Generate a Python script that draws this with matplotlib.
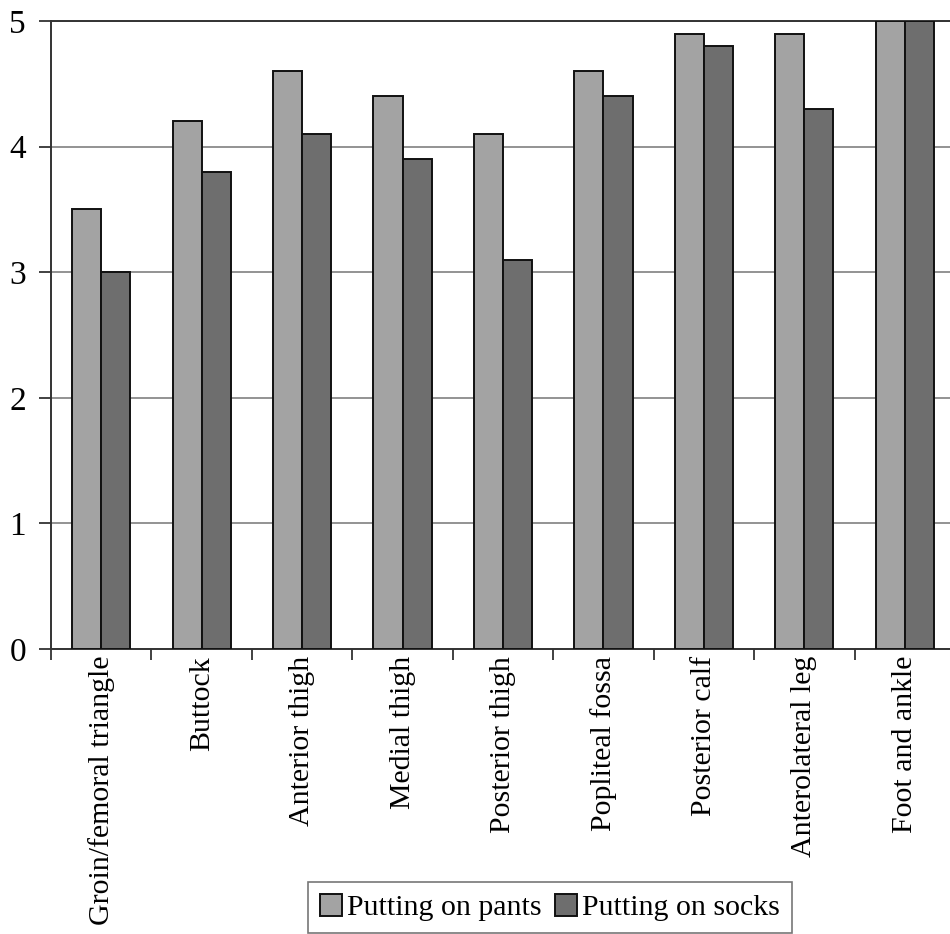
import numpy as np
import matplotlib
matplotlib.use("Agg")
import matplotlib.pyplot as plt

categories = ["Groin/femoral triangle", "Buttock", "Anterior thigh", "Medial thigh",
              "Posterior thigh", "Popliteal fossa", "Posterior calf",
              "Anterolateral leg", "Foot and ankle"]
pants = [3.5, 4.2, 4.6, 4.4, 4.1, 4.6, 4.9, 4.9, 5.0]
socks = [3.0, 3.8, 4.1, 3.9, 3.1, 4.4, 4.8, 4.3, 5.0]
series_labels = ["Putting on pants", "Putting on socks"]

plt.rcParams["font.family"] = ["Liberation Serif", "DejaVu Serif"]

W, H = 950, 934
fig = plt.figure(figsize=(W / 100, H / 100), dpi=100)
ax = fig.add_axes([51 / W, 1 - 649 / H, 904 / W, 628 / H])

x = np.arange(len(categories))
bw = 0.29
b1 = ax.bar(x - bw / 2, pants, bw, color="#a3a3a3", edgecolor="#111111", linewidth=1.4,
            label=series_labels[0], zorder=3)
b2 = ax.bar(x + bw / 2, socks, bw, color="#6e6e6e", edgecolor="#111111", linewidth=1.4,
            label=series_labels[1], zorder=3)

ax.set_xlim(-0.5, len(categories) - 0.5)
ax.set_ylim(0, 5)
ax.set_yticks(range(6))
ax.yaxis.grid(True, color="#8a8a8a", linewidth=1.3, zorder=0)
ax.set_axisbelow(True)

ax.set_xticks(x)
ax.set_xticklabels(categories, rotation=90, va="top", ha="center")
ax.set_xticks(np.arange(len(categories) + 1) - 0.5, minor=True)
ax.tick_params(axis="x", which="major", length=0, pad=5, labelsize=21.5)
ax.tick_params(axis="x", which="minor", length=8, width=1.3, color="#333333", direction="out")
ax.tick_params(axis="y", length=9, width=1.3, color="#333333", pad=9, labelsize=24)

ax.spines["right"].set_visible(False)
for s in ["left", "bottom", "top"]:
    ax.spines[s].set_color("#333333")
    ax.spines[s].set_linewidth(1.4)

leg = fig.legend(handles=[b1, b2], labels=series_labels, loc="upper left",
                 bbox_to_anchor=(308 / W, 1 - 882 / H), ncol=2, fontsize=21.5,
                 frameon=True, fancybox=False, handlelength=0.75, handleheight=0.75,
                 handletextpad=0.15, columnspacing=0.45, borderpad=0.4,
                 borderaxespad=0)
leg.get_frame().set_edgecolor("#555555")
leg.get_frame().set_linewidth(1.2)

fig.savefig("out.png", dpi=100)
